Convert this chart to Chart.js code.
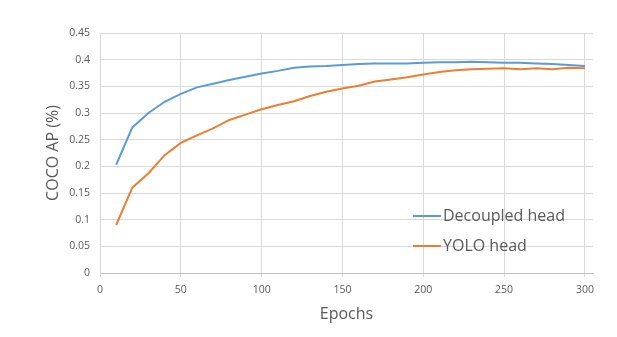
<!DOCTYPE html>
<html>
<head>
<meta charset="utf-8">
<script src="https://cdn.jsdelivr.net/npm/chart.js@4/dist/chart.umd.min.js"></script>
<style>
  html, body { margin: 0; padding: 0; background: #ffffff; }
  #wrap { width: 617px; height: 337px; }
</style>
</head>
<body>
<div id="wrap"><canvas id="c" width="617" height="337"></canvas></div>
<script>
// Training epochs (every 10 epochs)
const epochs = [10, 20, 30, 40, 50, 60, 70, 80, 90, 100,
                110, 120, 130, 140, 150, 160, 170, 180, 190, 200,
                210, 220, 230, 240, 250, 260, 270, 280, 290, 300];

// COCO AP per epoch
const decoupledHead = [0.203, 0.273, 0.300, 0.321, 0.336, 0.348, 0.355, 0.362, 0.368, 0.374,
                       0.379, 0.385, 0.387, 0.388, 0.390, 0.392, 0.393, 0.393, 0.393, 0.394,
                       0.395, 0.395, 0.396, 0.395, 0.394, 0.394, 0.393, 0.392, 0.390, 0.388];
const yoloHead = [0.090, 0.160, 0.187, 0.221, 0.244, 0.258, 0.271, 0.287, 0.297, 0.307,
                  0.315, 0.322, 0.332, 0.340, 0.346, 0.351, 0.359, 0.363, 0.367, 0.372,
                  0.377, 0.380, 0.382, 0.383, 0.384, 0.382, 0.384, 0.382, 0.385, 0.384];

const seriesNames = ['Decoupled head', 'YOLO head'];
const yTicks = [0, 0.05, 0.1, 0.15, 0.2, 0.25, 0.3, 0.35, 0.4, 0.45];
const xTicks = [0, 50, 100, 150, 200, 250, 300];

const FONT = "'Open Sans', 'Liberation Sans', sans-serif";
const TEXT = '#595959';
const GRID = '#D9D9D9';

const toPoints = (ys) => epochs.map((e, i) => ({ x: e, y: ys[i] }));

// Legend drawn inside the plot area, lower right
const innerLegend = {
  id: 'innerLegend',
  afterDraw(chart) {
    const ctx = chart.ctx;
    ctx.save();
    ctx.font = '16px ' + FONT;
    ctx.textBaseline = 'middle';
    ctx.textAlign = 'left';
    const rows = [216, 246];
    chart.data.datasets.forEach((ds, i) => {
      const y = rows[i];
      ctx.strokeStyle = ds.borderColor;
      ctx.lineWidth = 2;
      ctx.beginPath();
      ctx.moveTo(413, y);
      ctx.lineTo(441, y);
      ctx.stroke();
      ctx.fillStyle = TEXT;
      ctx.fillText(ds.label, 443, y);
    });
    ctx.restore();
  }
};

new Chart(document.getElementById('c'), {
  type: 'line',
  data: {
    datasets: [
      { label: seriesNames[0], data: toPoints(decoupledHead), borderColor: '#5B9BD5',
        backgroundColor: '#5B9BD5', borderWidth: 2, pointRadius: 0, tension: 0, fill: false },
      { label: seriesNames[1], data: toPoints(yoloHead), borderColor: '#ED7D31',
        backgroundColor: '#ED7D31', borderWidth: 2, pointRadius: 0, tension: 0, fill: false }
    ]
  },
  options: {
    responsive: false,
    animation: false,
    devicePixelRatio: 1,
    layout: { padding: { left: 44, right: 24, top: 33, bottom: 13 } },
    plugins: {
      legend: { display: false },
      tooltip: { enabled: false }
    },
    scales: {
      x: {
        type: 'linear',
        min: 0,
        max: 305,
        afterBuildTicks: (s) => { s.ticks = xTicks.map(v => ({ value: v })); },
        afterFit: (s) => { s.height = 51; },
        grid: { color: GRID, lineWidth: 1, drawTicks: true, tickLength: 4 },
        border: { color: '#BFBFBF', width: 1 },
        ticks: { color: TEXT, font: { family: FONT, size: 10.5 }, padding: 7, maxRotation: 0 },
        title: { display: true, text: 'Epochs', color: TEXT, font: { family: FONT, size: 16 },
                 padding: { top: 3, bottom: 0 } }
      },
      y: {
        min: 0,
        max: 0.45,
        afterBuildTicks: (s) => { s.ticks = yTicks.map(v => ({ value: v })); },
        afterFit: (s) => { s.width = 56; },
        grid: { color: GRID, lineWidth: 1, drawTicks: false },
        border: { color: GRID, width: 1 },
        ticks: { color: TEXT, font: { family: FONT, size: 10.5 }, padding: 10,
                 callback: (v) => String(+v.toFixed(2)) },
        title: { display: true, text: 'COCO AP (%)', color: TEXT, font: { family: FONT, size: 16 },
                 padding: { top: 0, bottom: 4 } }
      }
    }
  },
  plugins: [innerLegend]
});
</script>
</body>
</html>
